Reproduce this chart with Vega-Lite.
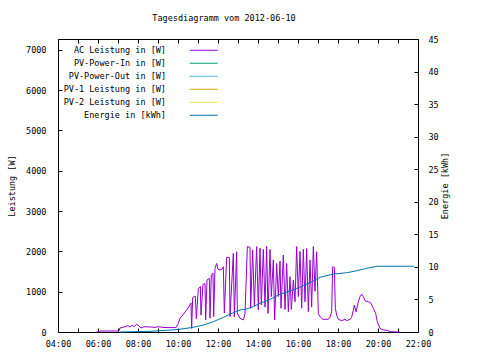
{
  "$schema": "https://vega.github.io/schema/vega-lite/v6.json",
  "width": 360,
  "height": 293,
  "autosize": {"type": "none"},
  "padding": {"left": 58, "top": 39, "right": 62, "bottom": 28},
  "background": "white",
  "title": {"text": "Tagesdiagramm vom 2012-06-10", "font": "DejaVu Sans Mono", "fontSize": 8.5, "fontWeight": "normal", "color": "black", "anchor": "middle", "dx": -14, "offset": 13},
  "datasets": {
    "ac": [
      {"t": "2012-06-10T05:56", "series": "AC Leistung in [W]", "w": 0},
      {"t": "2012-06-10T06:00", "series": "AC Leistung in [W]", "w": 10},
      {"t": "2012-06-10T06:09", "series": "AC Leistung in [W]", "w": 25},
      {"t": "2012-06-10T07:03", "series": "AC Leistung in [W]", "w": 25},
      {"t": "2012-06-10T07:06", "series": "AC Leistung in [W]", "w": 100},
      {"t": "2012-06-10T07:21", "series": "AC Leistung in [W]", "w": 130},
      {"t": "2012-06-10T07:30", "series": "AC Leistung in [W]", "w": 160},
      {"t": "2012-06-10T07:36", "series": "AC Leistung in [W]", "w": 120},
      {"t": "2012-06-10T07:42", "series": "AC Leistung in [W]", "w": 170},
      {"t": "2012-06-10T07:48", "series": "AC Leistung in [W]", "w": 130},
      {"t": "2012-06-10T07:56", "series": "AC Leistung in [W]", "w": 190},
      {"t": "2012-06-10T08:03", "series": "AC Leistung in [W]", "w": 150},
      {"t": "2012-06-10T08:09", "series": "AC Leistung in [W]", "w": 100},
      {"t": "2012-06-10T08:18", "series": "AC Leistung in [W]", "w": 130},
      {"t": "2012-06-10T08:36", "series": "AC Leistung in [W]", "w": 125},
      {"t": "2012-06-10T08:51", "series": "AC Leistung in [W]", "w": 115},
      {"t": "2012-06-10T09:00", "series": "AC Leistung in [W]", "w": 130},
      {"t": "2012-06-10T09:21", "series": "AC Leistung in [W]", "w": 110},
      {"t": "2012-06-10T09:54", "series": "AC Leistung in [W]", "w": 110},
      {"t": "2012-06-10T10:01", "series": "AC Leistung in [W]", "w": 215},
      {"t": "2012-06-10T10:06", "series": "AC Leistung in [W]", "w": 340},
      {"t": "2012-06-10T10:16", "series": "AC Leistung in [W]", "w": 440},
      {"t": "2012-06-10T10:26", "series": "AC Leistung in [W]", "w": 545},
      {"t": "2012-06-10T10:34", "series": "AC Leistung in [W]", "w": 645},
      {"t": "2012-06-10T10:39", "series": "AC Leistung in [W]", "w": 720},
      {"t": "2012-06-10T10:41", "series": "AC Leistung in [W]", "w": 90},
      {"t": "2012-06-10T10:44", "series": "AC Leistung in [W]", "w": 850},
      {"t": "2012-06-10T10:52", "series": "AC Leistung in [W]", "w": 890},
      {"t": "2012-06-10T10:55", "series": "AC Leistung in [W]", "w": 330},
      {"t": "2012-06-10T11:01", "series": "AC Leistung in [W]", "w": 1080},
      {"t": "2012-06-10T11:07", "series": "AC Leistung in [W]", "w": 1130},
      {"t": "2012-06-10T11:09", "series": "AC Leistung in [W]", "w": 420},
      {"t": "2012-06-10T11:15", "series": "AC Leistung in [W]", "w": 1180},
      {"t": "2012-06-10T11:21", "series": "AC Leistung in [W]", "w": 1200},
      {"t": "2012-06-10T11:23", "series": "AC Leistung in [W]", "w": 300},
      {"t": "2012-06-10T11:27", "series": "AC Leistung in [W]", "w": 1290},
      {"t": "2012-06-10T11:34", "series": "AC Leistung in [W]", "w": 1330},
      {"t": "2012-06-10T11:36", "series": "AC Leistung in [W]", "w": 345},
      {"t": "2012-06-10T11:40", "series": "AC Leistung in [W]", "w": 1410},
      {"t": "2012-06-10T11:45", "series": "AC Leistung in [W]", "w": 1460},
      {"t": "2012-06-10T11:47", "series": "AC Leistung in [W]", "w": 380},
      {"t": "2012-06-10T11:51", "series": "AC Leistung in [W]", "w": 1580},
      {"t": "2012-06-10T11:56", "series": "AC Leistung in [W]", "w": 1700},
      {"t": "2012-06-10T12:00", "series": "AC Leistung in [W]", "w": 1560},
      {"t": "2012-06-10T12:06", "series": "AC Leistung in [W]", "w": 1540},
      {"t": "2012-06-10T12:12", "series": "AC Leistung in [W]", "w": 1560},
      {"t": "2012-06-10T12:16", "series": "AC Leistung in [W]", "w": 1620},
      {"t": "2012-06-10T12:19", "series": "AC Leistung in [W]", "w": 470},
      {"t": "2012-06-10T12:26", "series": "AC Leistung in [W]", "w": 1850},
      {"t": "2012-06-10T12:34", "series": "AC Leistung in [W]", "w": 1850},
      {"t": "2012-06-10T12:36", "series": "AC Leistung in [W]", "w": 380},
      {"t": "2012-06-10T12:46", "series": "AC Leistung in [W]", "w": 1950},
      {"t": "2012-06-10T12:49", "series": "AC Leistung in [W]", "w": 380},
      {"t": "2012-06-10T12:56", "series": "AC Leistung in [W]", "w": 1990},
      {"t": "2012-06-10T12:58", "series": "AC Leistung in [W]", "w": 470},
      {"t": "2012-06-10T13:06", "series": "AC Leistung in [W]", "w": 340},
      {"t": "2012-06-10T13:16", "series": "AC Leistung in [W]", "w": 300},
      {"t": "2012-06-10T13:21", "series": "AC Leistung in [W]", "w": 450},
      {"t": "2012-06-10T13:28", "series": "AC Leistung in [W]", "w": 2120},
      {"t": "2012-06-10T13:36", "series": "AC Leistung in [W]", "w": 2100},
      {"t": "2012-06-10T13:38", "series": "AC Leistung in [W]", "w": 590},
      {"t": "2012-06-10T13:44", "series": "AC Leistung in [W]", "w": 2035},
      {"t": "2012-06-10T13:49", "series": "AC Leistung in [W]", "w": 650},
      {"t": "2012-06-10T13:56", "series": "AC Leistung in [W]", "w": 2120},
      {"t": "2012-06-10T14:01", "series": "AC Leistung in [W]", "w": 550},
      {"t": "2012-06-10T14:06", "series": "AC Leistung in [W]", "w": 2080},
      {"t": "2012-06-10T14:10", "series": "AC Leistung in [W]", "w": 670},
      {"t": "2012-06-10T14:16", "series": "AC Leistung in [W]", "w": 2050},
      {"t": "2012-06-10T14:21", "series": "AC Leistung in [W]", "w": 620},
      {"t": "2012-06-10T14:26", "series": "AC Leistung in [W]", "w": 2120},
      {"t": "2012-06-10T14:30", "series": "AC Leistung in [W]", "w": 460},
      {"t": "2012-06-10T14:36", "series": "AC Leistung in [W]", "w": 2050},
      {"t": "2012-06-10T14:40", "series": "AC Leistung in [W]", "w": 880},
      {"t": "2012-06-10T14:46", "series": "AC Leistung in [W]", "w": 1790},
      {"t": "2012-06-10T14:50", "series": "AC Leistung in [W]", "w": 300},
      {"t": "2012-06-10T14:56", "series": "AC Leistung in [W]", "w": 1700},
      {"t": "2012-06-10T15:01", "series": "AC Leistung in [W]", "w": 880},
      {"t": "2012-06-10T15:06", "series": "AC Leistung in [W]", "w": 1760},
      {"t": "2012-06-10T15:09", "series": "AC Leistung in [W]", "w": 590},
      {"t": "2012-06-10T15:16", "series": "AC Leistung in [W]", "w": 1910},
      {"t": "2012-06-10T15:21", "series": "AC Leistung in [W]", "w": 560},
      {"t": "2012-06-10T15:26", "series": "AC Leistung in [W]", "w": 1700},
      {"t": "2012-06-10T15:31", "series": "AC Leistung in [W]", "w": 505},
      {"t": "2012-06-10T15:36", "series": "AC Leistung in [W]", "w": 1370},
      {"t": "2012-06-10T15:40", "series": "AC Leistung in [W]", "w": 560},
      {"t": "2012-06-10T15:46", "series": "AC Leistung in [W]", "w": 1290},
      {"t": "2012-06-10T15:51", "series": "AC Leistung in [W]", "w": 750},
      {"t": "2012-06-10T15:56", "series": "AC Leistung in [W]", "w": 2120},
      {"t": "2012-06-10T16:01", "series": "AC Leistung in [W]", "w": 880},
      {"t": "2012-06-10T16:06", "series": "AC Leistung in [W]", "w": 2000},
      {"t": "2012-06-10T16:11", "series": "AC Leistung in [W]", "w": 590},
      {"t": "2012-06-10T16:16", "series": "AC Leistung in [W]", "w": 2050},
      {"t": "2012-06-10T16:21", "series": "AC Leistung in [W]", "w": 750},
      {"t": "2012-06-10T16:26", "series": "AC Leistung in [W]", "w": 2070},
      {"t": "2012-06-10T16:31", "series": "AC Leistung in [W]", "w": 505},
      {"t": "2012-06-10T16:36", "series": "AC Leistung in [W]", "w": 1790},
      {"t": "2012-06-10T16:41", "series": "AC Leistung in [W]", "w": 620},
      {"t": "2012-06-10T16:46", "series": "AC Leistung in [W]", "w": 2120},
      {"t": "2012-06-10T16:51", "series": "AC Leistung in [W]", "w": 1010},
      {"t": "2012-06-10T16:56", "series": "AC Leistung in [W]", "w": 1990},
      {"t": "2012-06-10T17:01", "series": "AC Leistung in [W]", "w": 460},
      {"t": "2012-06-10T17:06", "series": "AC Leistung in [W]", "w": 380},
      {"t": "2012-06-10T17:11", "series": "AC Leistung in [W]", "w": 340},
      {"t": "2012-06-10T17:15", "series": "AC Leistung in [W]", "w": 315},
      {"t": "2012-06-10T17:30", "series": "AC Leistung in [W]", "w": 315},
      {"t": "2012-06-10T17:36", "series": "AC Leistung in [W]", "w": 360},
      {"t": "2012-06-10T17:41", "series": "AC Leistung in [W]", "w": 505},
      {"t": "2012-06-10T17:44", "series": "AC Leistung in [W]", "w": 1620},
      {"t": "2012-06-10T17:49", "series": "AC Leistung in [W]", "w": 1600},
      {"t": "2012-06-10T17:52", "series": "AC Leistung in [W]", "w": 590},
      {"t": "2012-06-10T17:56", "series": "AC Leistung in [W]", "w": 420},
      {"t": "2012-06-10T18:01", "series": "AC Leistung in [W]", "w": 315},
      {"t": "2012-06-10T18:11", "series": "AC Leistung in [W]", "w": 280},
      {"t": "2012-06-10T18:21", "series": "AC Leistung in [W]", "w": 315},
      {"t": "2012-06-10T18:26", "series": "AC Leistung in [W]", "w": 280},
      {"t": "2012-06-10T18:36", "series": "AC Leistung in [W]", "w": 315},
      {"t": "2012-06-10T18:41", "series": "AC Leistung in [W]", "w": 365},
      {"t": "2012-06-10T18:46", "series": "AC Leistung in [W]", "w": 545},
      {"t": "2012-06-10T18:49", "series": "AC Leistung in [W]", "w": 670},
      {"t": "2012-06-10T18:54", "series": "AC Leistung in [W]", "w": 500},
      {"t": "2012-06-10T19:01", "series": "AC Leistung in [W]", "w": 750},
      {"t": "2012-06-10T19:06", "series": "AC Leistung in [W]", "w": 877},
      {"t": "2012-06-10T19:11", "series": "AC Leistung in [W]", "w": 940},
      {"t": "2012-06-10T19:16", "series": "AC Leistung in [W]", "w": 880},
      {"t": "2012-06-10T19:21", "series": "AC Leistung in [W]", "w": 777},
      {"t": "2012-06-10T19:31", "series": "AC Leistung in [W]", "w": 750},
      {"t": "2012-06-10T19:38", "series": "AC Leistung in [W]", "w": 727},
      {"t": "2012-06-10T19:46", "series": "AC Leistung in [W]", "w": 590},
      {"t": "2012-06-10T19:53", "series": "AC Leistung in [W]", "w": 460},
      {"t": "2012-06-10T19:58", "series": "AC Leistung in [W]", "w": 255},
      {"t": "2012-06-10T20:06", "series": "AC Leistung in [W]", "w": 90},
      {"t": "2012-06-10T20:16", "series": "AC Leistung in [W]", "w": 50},
      {"t": "2012-06-10T20:28", "series": "AC Leistung in [W]", "w": 40},
      {"t": "2012-06-10T20:36", "series": "AC Leistung in [W]", "w": 8},
      {"t": "2012-06-10T21:06", "series": "AC Leistung in [W]", "w": 0}
    ],
    "energie": [
      {"t": "2012-06-10T07:06", "series": "Energie in [kWh]", "kwh": 0},
      {"t": "2012-06-10T07:51", "series": "Energie in [kWh]", "kwh": 0.05},
      {"t": "2012-06-10T08:36", "series": "Energie in [kWh]", "kwh": 0.1},
      {"t": "2012-06-10T09:06", "series": "Energie in [kWh]", "kwh": 0.2},
      {"t": "2012-06-10T09:51", "series": "Energie in [kWh]", "kwh": 0.35},
      {"t": "2012-06-10T10:06", "series": "Energie in [kWh]", "kwh": 0.42},
      {"t": "2012-06-10T10:46", "series": "Energie in [kWh]", "kwh": 0.72},
      {"t": "2012-06-10T11:16", "series": "Energie in [kWh]", "kwh": 1.07},
      {"t": "2012-06-10T11:46", "series": "Energie in [kWh]", "kwh": 1.58},
      {"t": "2012-06-10T12:16", "series": "Energie in [kWh]", "kwh": 2.25},
      {"t": "2012-06-10T12:46", "series": "Energie in [kWh]", "kwh": 2.97},
      {"t": "2012-06-10T13:06", "series": "Energie in [kWh]", "kwh": 3.38},
      {"t": "2012-06-10T13:26", "series": "Energie in [kWh]", "kwh": 3.53},
      {"t": "2012-06-10T13:46", "series": "Energie in [kWh]", "kwh": 3.89},
      {"t": "2012-06-10T14:06", "series": "Energie in [kWh]", "kwh": 4.4},
      {"t": "2012-06-10T14:36", "series": "Energie in [kWh]", "kwh": 5.0},
      {"t": "2012-06-10T15:06", "series": "Energie in [kWh]", "kwh": 5.8},
      {"t": "2012-06-10T15:36", "series": "Energie in [kWh]", "kwh": 6.3},
      {"t": "2012-06-10T16:06", "series": "Energie in [kWh]", "kwh": 6.9},
      {"t": "2012-06-10T16:36", "series": "Energie in [kWh]", "kwh": 7.6},
      {"t": "2012-06-10T16:56", "series": "Energie in [kWh]", "kwh": 8.1},
      {"t": "2012-06-10T17:06", "series": "Energie in [kWh]", "kwh": 8.4},
      {"t": "2012-06-10T17:46", "series": "Energie in [kWh]", "kwh": 8.9},
      {"t": "2012-06-10T18:26", "series": "Energie in [kWh]", "kwh": 9.1},
      {"t": "2012-06-10T18:56", "series": "Energie in [kWh]", "kwh": 9.4},
      {"t": "2012-06-10T19:26", "series": "Energie in [kWh]", "kwh": 9.78},
      {"t": "2012-06-10T19:56", "series": "Energie in [kWh]", "kwh": 10.1},
      {"t": "2012-06-10T21:48", "series": "Energie in [kWh]", "kwh": 10.1}
    ]
  },
  "layer": [
    {
      "data": {"name": "ac"},
      "mark": {"type": "line", "strokeWidth": 1},
      "encoding": {
        "x": {"field": "t", "type": "temporal",
              "scale": {"domain": ["2012-06-10T04:00", "2012-06-10T22:00"]},
              "axis": {"orient": "bottom", "title": null, "format": "%H:%M", "tickCount": 18,
                       "labelExpr": "hours(datum.value) % 2 == 0 ? datum.label : ''",
                       "tickSize": -4, "labelPadding": 11, "labelFlush": false, "labelOverlap": false}},
        "y": {"field": "w", "type": "quantitative",
              "scale": {"domain": [0, 7270], "nice": false},
              "axis": {"orient": "left", "title": "Leistung [W]", "values": [0, 1000, 2000, 3000, 4000, 5000, 6000, 7000], "format": "d",
                       "tickSize": -4, "labelPadding": 16, "titleAngle": 270, "titleX": -47, "titleY": 146.5, "titleAlign": "center", "titleBaseline": "middle"}},
        "color": {"field": "series", "type": "nominal",
                  "scale": {"domain": ["AC Leistung in [W]", "PV-Power-In in [W]", "PV-Power-Out in [W]", "PV-1 Leistung in [W]", "PV-2 Leistung in [W]", "Energie in [kWh]"],
                            "range": ["#9400D3", "#009E73", "#56B4E9", "#E69F00", "#F0E442", "#0072B2"]},
                  "legend": {"orient": "none", "legendX": 141.5, "legendY": 7, "title": null,
                             "symbolType": "M-7,0H7", "symbolSize": 16, "symbolStrokeWidth": 1,
                             "labelAlign": "right", "labelOffset": -42, "rowPadding": 4}}
      }
    },
    {
      "data": {"name": "energie"},
      "mark": {"type": "line", "strokeWidth": 1},
      "encoding": {
        "x": {"field": "t", "type": "temporal", "axis": null},
        "y": {"field": "kwh", "type": "quantitative",
              "scale": {"domain": [0, 45], "nice": false},
              "axis": {"orient": "right", "title": "Energie [kWh]", "values": [0, 5, 10, 15, 20, 25, 30, 35, 40, 45],
                       "tickSize": -4, "labelPadding": 14, "titleAngle": 270, "titleX": 26, "titleY": 146.5, "titleAlign": "center", "titleBaseline": "middle"}},
        "color": {"field": "series", "type": "nominal"}
      }
    },
    {
      "data": {"name": "ac"},
      "mark": {"type": "line", "opacity": 0},
      "encoding": {
        "x": {"field": "t", "type": "temporal",
              "axis": {"orient": "top", "title": null, "labels": false, "tickCount": 18, "tickSize": -4}},
        "y": {"field": "w", "type": "quantitative", "scale": {"domain": [0, 7270], "nice": false}, "axis": null}
      }
    }
  ],
  "resolve": {"scale": {"y": "independent"}, "axis": {"x": "independent"}},
  "config": {
    "font": "DejaVu Sans Mono",
    "view": {"stroke": "black", "strokeWidth": 1},
    "axis": {"domain": false, "grid": false, "labelFont": "DejaVu Sans Mono", "labelFontSize": 8.5, "labelColor": "black", "tickColor": "black", "tickWidth": 1,
             "titleFont": "DejaVu Sans Mono", "titleFontSize": 8.5, "titleFontWeight": "normal", "titleColor": "black"},
    "legend": {"labelFont": "DejaVu Sans Mono", "labelFontSize": 8.5, "labelColor": "black"}
  }
}
